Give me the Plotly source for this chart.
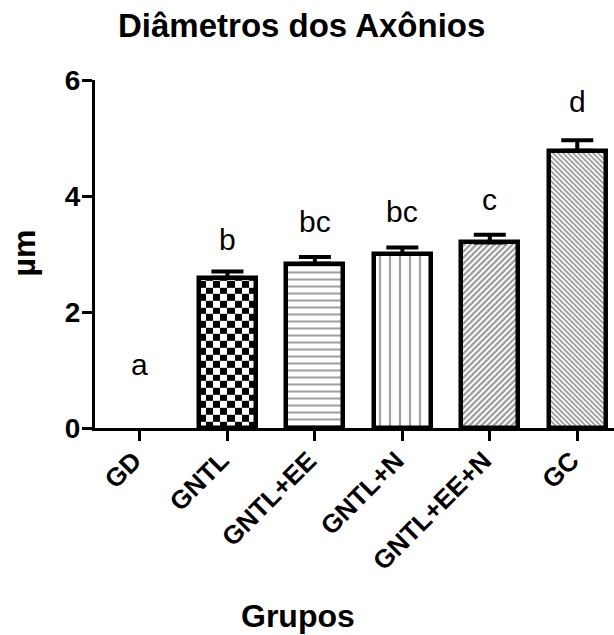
import numpy as np
import plotly.graph_objects as go

# Axon diameter per group (mean and SEM, in µm)
groups = ["GD", "GNTL", "GNTL+EE", "GNTL+N", "GNTL+EE+N", "GC"]
mean_um = [0.0, 2.59, 2.83, 3.00, 3.20, 4.78]
sem_um = [None, 0.11, 0.12, 0.11, 0.13, 0.18]
letters = ["a", "b", "bc", "bc", "c", "d"]
letter_base = [0.91, 3.07, 3.38, 3.55, 3.76, 5.45]  # baseline height of each significance letter
y_ticks = [0, 2, 4, 6]

FONT = "Liberation Sans, Arial, sans-serif"
W, H = 614, 635
M_L, M_R, M_T, M_B = 95, 0, 80, 207
plot_w = W - M_L - M_R
plot_h = H - M_T - M_B
x_range = [-0.514, 5.42]
y_range = [0, 6]
bar_w = 0.65

x_pos = list(range(len(groups)))

# fill patterns per bar ("" = checkerboard drawn separately / empty)
shapes = ["", "", "-", "|", "/", "\\"]
sizes = [6, 6, 7, 10, 6 / np.sqrt(2), 5 / np.sqrt(2)]
solid = [0.2, 0.2, 0.3, 0.22, 0.55, 0.55]
fill = ["white", "rgba(0,0,0,0)", "white", "white", "white", "white"]
outline = [0, 4.5, 4.5, 4.5, 4.5, 4.5]

fig = go.Figure()

# checkerboard texture for the GNTL bar, built as a small heatmap under the bar
idx = groups.index("GNTL")
cell_px = 6.7
ncols = 8
px_per_y = plot_h / (y_range[1] - y_range[0])
dy = cell_px / px_per_y
nrows = int(np.ceil(mean_um[idx] / dy))
xe = np.linspace(idx - bar_w / 2, idx + bar_w / 2, ncols + 1)
ye = np.minimum(np.arange(nrows + 1) * dy, mean_um[idx])
zc = [[(r + c) % 2 for c in range(ncols)] for r in range(nrows)]
fig.add_trace(go.Heatmap(
    x=xe, y=ye, z=zc, zmin=0, zmax=1,
    colorscale=[[0, "white"], [1, "black"]],
    showscale=False, hoverinfo="skip",
))

fig.add_trace(go.Bar(
    x=x_pos, y=mean_um, width=bar_w,
    marker=dict(
        color=fill,
        line=dict(color="black", width=outline),
        pattern=dict(shape=shapes, size=list(sizes), solidity=solid,
                     fgcolor="black", fillmode="overlay"),
    ),
    hoverinfo="skip",
))

# upward SEM bars, only for groups that have one
has_err = [i for i, s in enumerate(sem_um) if s is not None]
fig.add_trace(go.Scatter(
    x=[x_pos[i] for i in has_err], y=[mean_um[i] for i in has_err],
    mode="markers", marker=dict(size=0.1, color="rgba(0,0,0,0)"),
    error_y=dict(type="data", symmetric=False,
                 array=[sem_um[i] for i in has_err],
                 arrayminus=[0] * len(has_err),
                 color="black", thickness=4, width=16),
    hoverinfo="skip",
))

annotations = []
for xi, lab, yb in zip(x_pos, letters, letter_base):
    annotations.append(dict(
        x=xi, y=yb, xref="x", yref="y", text=lab, showarrow=False,
        yanchor="bottom", yshift=-8,
        font=dict(family=FONT, size=30, color="black"),
    ))


def px_x(px):
    return (px - M_L) / plot_w


def px_y(py):
    return (H - M_B - py) / plot_h


annotations += [
    dict(text="<b>Diâmetros dos Axônios</b>", x=px_x(301.5), y=px_y(25),
         xref="paper", yref="paper", showarrow=False,
         xanchor="center", yanchor="middle",
         font=dict(family=FONT, size=33, color="black")),
    dict(text="<b>Grupos</b>", x=px_x(298), y=px_y(616),
         xref="paper", yref="paper", showarrow=False,
         xanchor="center", yanchor="middle",
         font=dict(family=FONT, size=32, color="black")),
    dict(text="<b>µm</b>", x=px_x(23.5), y=px_y(253),
         xref="paper", yref="paper", showarrow=False, textangle=-90,
         xanchor="center", yanchor="middle",
         font=dict(family=FONT, size=32, color="black")),
]

fig.update_layout(
    width=W, height=H,
    margin=dict(l=M_L, r=M_R, t=M_T, b=M_B, autoexpand=False),
    paper_bgcolor="white", plot_bgcolor="white",
    showlegend=False,
    bargap=0,
    annotations=annotations,
    xaxis=dict(
        range=x_range, tickmode="array", tickvals=x_pos, ticktext=groups,
        tickangle=-45, ticks="outside", ticklen=10, tickwidth=3, tickcolor="black",
        ticklabelstandoff=-6, ticklabelshift=-6,
        showline=True, linewidth=3, linecolor="black",
        showgrid=False, zeroline=False,
        tickfont=dict(family=FONT, size=26, color="black", weight="bold"),
    ),
    yaxis=dict(
        range=y_range, tickmode="array", tickvals=y_ticks,
        ticks="outside", ticklen=10, tickwidth=3, tickcolor="black",
        ticklabelstandoff=-4,
        showline=True, linewidth=3, linecolor="black",
        showgrid=False, zeroline=False,
        tickfont=dict(family=FONT, size=28, color="black", weight="bold"),
    ),
)

fig.write_html("out.html")
